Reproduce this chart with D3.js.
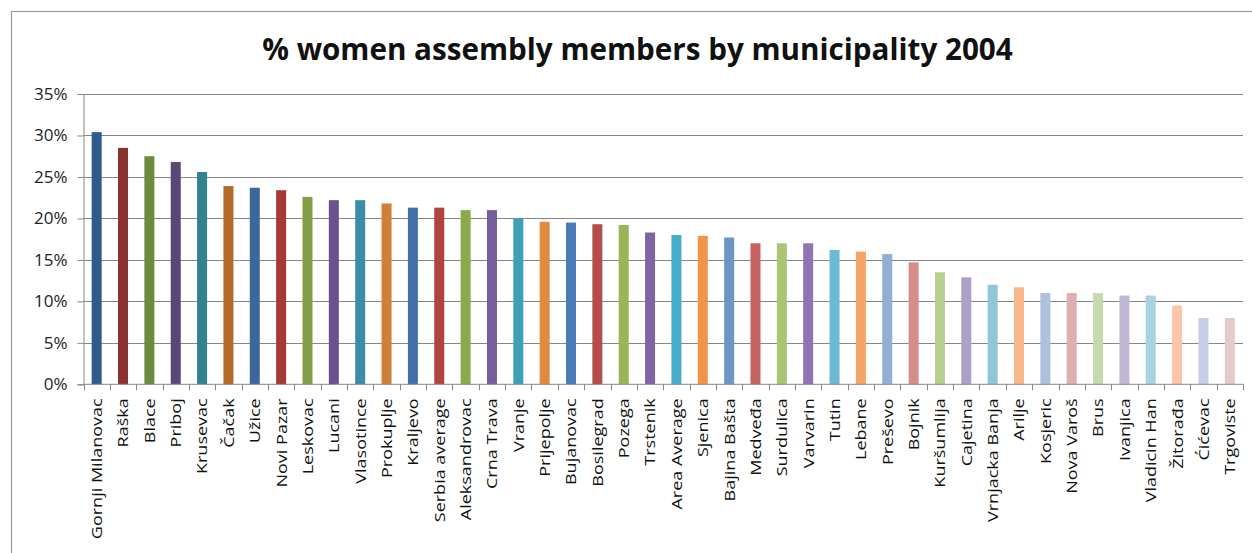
<!DOCTYPE html>
<html>
<head>
<meta charset="utf-8">
<script src="https://cdn.jsdelivr.net/npm/d3@7"></script>
<style>
  html, body { margin: 0; padding: 0; background: #fff; }
  svg { display: block; }
</style>
</head>
<body>
<svg id="chart" width="1252" height="553"></svg>
<script>
// Share of women among municipal assembly members, 2004
const municipalities = [
  "Gornji Milanovac", "Raška", "Blace", "Priboj", "Krusevac", "Čačak", "Užice",
  "Novi Pazar", "Leskovac", "Lucani", "Vlasotince", "Prokuplje", "Kraljevo",
  "Serbia average", "Aleksandrovac", "Crna Trava", "Vranje", "Prijepolje",
  "Bujanovac", "Bosilegrad", "Pozega", "Trstenik", "Area Average", "Sjenica",
  "Bajina Bašta", "Medveđa", "Surdulica", "Varvarin", "Tutin", "Lebane",
  "Preševo", "Bojnik", "Kuršumlija", "Cajetina", "Vrnjacka Banja", "Arilje",
  "Kosjeric", "Nova Varoš", "Brus", "Ivanjica", "Vladicin Han", "Žitorađa",
  "Ćićevac", "Trgoviste"
];

const womenShare = [
  0.304, 0.285, 0.275, 0.268, 0.256, 0.239, 0.237,
  0.234, 0.226, 0.222, 0.222, 0.218, 0.213,
  0.213, 0.210, 0.210, 0.200, 0.196,
  0.195, 0.193, 0.192, 0.183, 0.180, 0.179,
  0.177, 0.170, 0.170, 0.170, 0.162, 0.160,
  0.157, 0.147, 0.135, 0.129, 0.120, 0.117,
  0.110, 0.110, 0.110, 0.107, 0.107, 0.095,
  0.080, 0.080
];

const barColors = [
  "#2f5a8c", "#8b3230", "#6e8a3c", "#5a4677", "#2f8290", "#b46b2a", "#3c679c",
  "#a63936", "#849f49", "#6a5290", "#3a8da5", "#d07f36", "#4470aa",
  "#b0453f", "#8baa4d", "#775e9a", "#3f9fb8", "#e08a40",
  "#4a7bba", "#b54d4a", "#98b656", "#7e64a0", "#46adc8", "#f09449",
  "#6f94c6", "#c8625f", "#a9c473", "#8e74b0", "#6abad2", "#f6a465",
  "#93aed4", "#d38e8c", "#b6cf92", "#ada0c8", "#8fc6d8", "#f8b88a",
  "#afc0df", "#ddafae", "#c7daae", "#c0b7d6", "#a9d3e1", "#fac6a7",
  "#c5cee6", "#e6caca"
];

const yTicks = [0, 0.05, 0.10, 0.15, 0.20, 0.25, 0.30, 0.35];
const chartTitle = "% women assembly members by municipality 2004";

const svg = d3.select("#chart");
const plot = { left: 83.5, right: 1243, top: 94, bottom: 384.3 };

// chart frame
svg.append("rect")
  .attr("x", 11.5).attr("y", 11.5)
  .attr("width", 1400).attr("height", 800)
  .attr("fill", "#fff")
  .attr("stroke", "#9a9a9a").attr("stroke-width", 1.2);

const x = d3.scaleBand()
  .domain(municipalities)
  .range([plot.left, plot.right])
  .paddingInner(0.62)
  .paddingOuter(0.31);

const y = d3.scaleLinear()
  .domain([0, 0.35])
  .range([plot.bottom, plot.top]);

// horizontal gridlines
svg.append("g")
  .selectAll("line")
  .data(yTicks.filter(t => t > 0))
  .join("line")
  .attr("x1", plot.left).attr("x2", plot.right)
  .attr("y1", d => Math.round(y(d)) + 0.5).attr("y2", d => Math.round(y(d)) + 0.5)
  .attr("stroke", "#868686").attr("stroke-width", 1);

// value axis
const yAxis = d3.axisLeft(y)
  .tickValues(yTicks)
  .tickFormat(d3.format(".0%"))
  .tickSize(6)
  .tickPadding(10);

const yg = svg.append("g")
  .attr("transform", `translate(${plot.left},0)`)
  .call(yAxis);
yg.select(".domain").attr("stroke", "#868686");
yg.selectAll(".tick line").attr("stroke", "#868686");
yg.selectAll(".tick text")
  .attr("font-family", "'Open Sans', sans-serif")
  .attr("font-size", 17)
  .attr("fill", "#222");

// bars
svg.append("g")
  .selectAll("rect")
  .data(municipalities)
  .join("rect")
  .attr("x", d => x(d))
  .attr("width", x.bandwidth())
  .attr("y", (d, i) => y(womenShare[i]))
  .attr("height", (d, i) => y(0) - y(womenShare[i]))
  .attr("fill", (d, i) => barColors[i]);

// category axis: baseline and ticks between categories
const step = x.step();
const boundaries = d3.range(municipalities.length + 1).map(k => plot.left + k * step);
svg.append("line")
  .attr("x1", plot.left).attr("x2", plot.right)
  .attr("y1", plot.bottom).attr("y2", plot.bottom)
  .attr("stroke", "#868686");
svg.append("g")
  .selectAll("line")
  .data(boundaries)
  .join("line")
  .attr("x1", d => Math.round(d) + 0.5).attr("x2", d => Math.round(d) + 0.5)
  .attr("y1", plot.bottom).attr("y2", plot.bottom + 6)
  .attr("stroke", "#868686");

// rotated category labels
const labels = svg.append("g")
  .selectAll("g")
  .data(municipalities)
  .join("g")
  .attr("transform", d => `translate(${x(d) + x.bandwidth() / 2},${plot.bottom + 14}) rotate(-90)`);

const labelText = labels.append("text")
  .attr("text-anchor", "end")
  .attr("dy", "0.36em")
  .attr("font-family", "'Open Sans', sans-serif")
  .attr("font-size", 15)
  .attr("fill", "#111")
  .text(d => d);

// stretch labels along their reading direction so the longest spans the space below the axis
const refLen = labelText.filter(d => d === "Gornji Milanovac").node().getComputedTextLength();
const sx = 141 / refLen;
labelText.attr("transform", `scale(${sx},1)`);

// title
const title = svg.append("text")
  .attr("x", 637.5).attr("y", 60)
  .attr("text-anchor", "middle")
  .attr("font-family", "'Open Sans', sans-serif")
  .attr("font-weight", 700)
  .attr("font-size", 28)
  .attr("fill", "#111")
  .text(chartTitle);
const tLen = title.node().getComputedTextLength();
title.attr("font-size", 28 * 751 / tLen);
</script>
</body>
</html>
